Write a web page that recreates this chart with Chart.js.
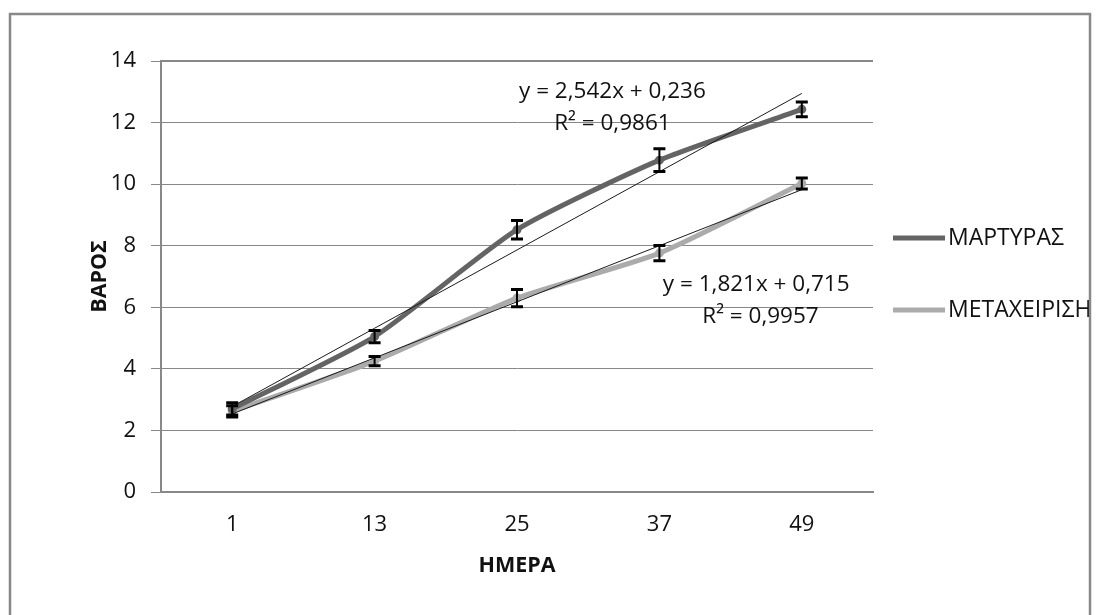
<!DOCTYPE html>
<html>
<head>
<meta charset="utf-8">
<script src="https://cdn.jsdelivr.net/npm/chart.js@4"></script>
<style>
    body { margin: 0; background: #fff; }
    #wrap { width: 1101px; height: 615px; position: relative; }
</style>
</head>
<body>
<div id="wrap"><canvas id="weightChart"></canvas></div>
<script>
// Data
const days = ['1', '13', '25', '37', '49'];
const controlWeight = [2.7, 5.05, 8.52, 10.78, 12.43];
const treatedWeight = [2.62, 4.25, 6.3, 7.76, 10.02];
const controlError = [0.2, 0.2, 0.3, 0.37, 0.24];
const treatedError = [0.18, 0.15, 0.28, 0.25, 0.18];
const yTicks = [0, 2, 4, 6, 8, 10, 12, 14];

// Linear trendlines as printed on the chart
const controlFit = { slope: 2.542, intercept: 0.236, eq: 'y = 2,542x + 0,236', r2: 'R² = 0,9861' };
const treatedFit = { slope: 1.821, intercept: 0.715, eq: 'y = 1,821x + 0,715', r2: 'R² = 0,9957' };

const darkGray = '#646464';
const lightGray = '#ababab';
const gridGray = '#888888';
const font = "'Open Sans', sans-serif";

function trendValues(fit) {
    return days.map((d, i) => fit.slope * (i + 1) + fit.intercept);
}

// Error bars
const errorBars = {
    id: 'errorBars',
    afterDatasetsDraw(chart) {
        const ctx = chart.ctx;
        const y = chart.scales.y;
        chart.data.datasets.forEach((ds, i) => {
            if (!ds.errors) return;
            const meta = chart.getDatasetMeta(i);
            meta.data.forEach((pt, j) => {
                const top = y.getPixelForValue(ds.data[j] + ds.errors[j]);
                const bot = y.getPixelForValue(ds.data[j] - ds.errors[j]);
                ctx.save();
                ctx.strokeStyle = '#000';
                ctx.lineWidth = 2;
                ctx.beginPath();
                ctx.moveTo(pt.x, top);
                ctx.lineTo(pt.x, bot);
                ctx.stroke();
                ctx.lineWidth = 3;
                ctx.beginPath();
                ctx.moveTo(pt.x - 6, top);
                ctx.lineTo(pt.x + 6, top);
                ctx.moveTo(pt.x - 6, bot);
                ctx.lineTo(pt.x + 6, bot);
                ctx.stroke();
                ctx.restore();
            });
        });
    }
};

// Trendline equations, anchored in data space
const equations = {
    id: 'equations',
    afterDatasetsDraw(chart) {
        const ctx = chart.ctx;
        const x = chart.scales.x, y = chart.scales.y;
        ctx.save();
        ctx.fillStyle = '#111';
        ctx.font = '22.5px ' + font;
        ctx.textAlign = 'center';
        ctx.textBaseline = 'middle';
        ctx.fillText(controlFit.eq, x.getPixelForValue(2.67), y.getPixelForValue(12.99));
        ctx.fillText(controlFit.r2, x.getPixelForValue(2.67), y.getPixelForValue(11.98));
        ctx.fillText(treatedFit.eq, x.getPixelForValue(3.68), y.getPixelForValue(6.75));
        ctx.fillText(treatedFit.r2, x.getPixelForValue(3.71), y.getPixelForValue(5.71));
        ctx.restore();
    }
};

// Legend on the right + outer frame
const sideLegend = {
    id: 'sideLegend',
    afterDraw(chart) {
        const ctx = chart.ctx;
        const items = [
            { label: 'ΜΑΡΤΥΡΑΣ', color: darkGray, y: 238 },
            { label: 'ΜΕΤΑΧΕΙΡΙΣΗ', color: lightGray, y: 310 }
        ];
        ctx.save();
        items.forEach(it => {
            ctx.strokeStyle = it.color;
            ctx.lineWidth = 5;
            ctx.beginPath();
            ctx.moveTo(893, it.y);
            ctx.lineTo(945, it.y);
            ctx.stroke();
            ctx.fillStyle = '#111';
            ctx.font = '23px ' + font;
            ctx.textAlign = 'left';
            ctx.textBaseline = 'middle';
            ctx.fillText(it.label, 948, it.y);
        });
        // top edge of plot area is drawn a bit heavier, as in the source
        ctx.strokeStyle = gridGray;
        ctx.lineWidth = 2;
        ctx.beginPath();
        ctx.moveTo(chart.chartArea.left, chart.chartArea.top);
        ctx.lineTo(chart.chartArea.right, chart.chartArea.top);
        ctx.stroke();
        ctx.lineWidth = 2.5;
        ctx.strokeRect(10, 14, 1080, 700);
        ctx.restore();
    }
};

const ctx = document.getElementById('weightChart').getContext('2d');
const weightChart = new Chart(ctx, {
    type: 'line',
    data: {
        labels: days,
        datasets: [{
            label: 'trend1',
            data: trendValues(controlFit),
            borderColor: '#1a1a1a',
            borderWidth: 1,
            pointRadius: 0,
            order: 0
        }, {
            label: 'trend2',
            data: trendValues(treatedFit),
            borderColor: '#1a1a1a',
            borderWidth: 1,
            pointRadius: 0,
            order: 0
        }, {
            label: 'ΜΑΡΤΥΡΑΣ',
            data: controlWeight,
            errors: controlError,
            borderColor: darkGray,
            backgroundColor: darkGray,
            borderWidth: 5,
            pointRadius: 2,
            tension: 0.2,
            order: 1
        }, {
            label: 'ΜΕΤΑΧΕΙΡΙΣΗ',
            data: treatedWeight,
            errors: treatedError,
            borderColor: lightGray,
            backgroundColor: lightGray,
            borderWidth: 5,
            pointRadius: 2,
            tension: 0.2,
            order: 1
        }]
    },
    options: {
        responsive: true,
        maintainAspectRatio: false,
        animation: false,
        layout: { padding: { left: 84, top: 61, right: 228, bottom: 20 } },
        plugins: {
            legend: { display: false },
            tooltip: { enabled: false }
        },
        scales: {
            x: {
                offset: true,
                grid: { display: false, drawTicks: false },
                border: { display: true, color: gridGray, width: 2 },
                ticks: { color: '#111', font: { family: font, size: 22 }, padding: 20 },
                title: {
                    display: true, text: 'ΗΜΕΡΑ', color: '#111',
                    font: { family: font, size: 21.5, weight: 'bold' },
                    padding: { top: 0, bottom: 16 }
                },
                afterFit(scale) { scale.height = 103; }
            },
            y: {
                min: 0,
                max: 14,
                afterBuildTicks(scale) { scale.ticks = yTicks.map(v => ({ value: v })); },
                grid: { color: gridGray, lineWidth: 1, tickLength: 10 },
                border: { display: true, color: gridGray, width: 2 },
                ticks: { color: '#111', font: { family: font, size: 22 }, padding: 15 },
                title: {
                    display: true, text: 'ΒΑΡΟΣ', color: '#111',
                    font: { family: font, size: 21.5, weight: 'bold' },
                    padding: { top: 3, bottom: 0 }
                },
                afterFit(scale) { scale.width = 77; }
            }
        }
    },
    plugins: [errorBars, equations, sideLegend]
});
</script>
</body>
</html>
